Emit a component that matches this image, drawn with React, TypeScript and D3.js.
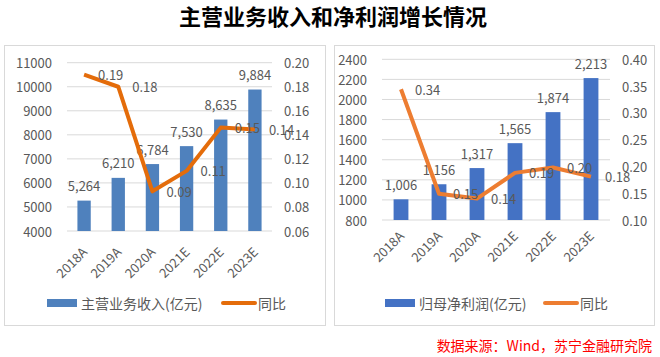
import React from "react";
import * as d3 from "d3";

const categories = ["2018A", "2019A", "2020A", "2021E", "2022E", "2023E"];

const revenue = [5264, 6210, 6784, 7530, 8635, 9884];
const revenueYoY = [0.19, 0.18, 0.093, 0.11, 0.146, 0.1445];
const revenueLeftTicks = [4000, 5000, 6000, 7000, 8000, 9000, 10000, 11000];
const revenueRightTicks = [0.06, 0.08, 0.1, 0.12, 0.14, 0.16, 0.18, 0.2];

const profit = [1006, 1156, 1317, 1565, 1874, 2213];
const profitYoY = [0.344, 0.149, 0.14, 0.188, 0.198, 0.181];
const profitLeftTicks = [800, 1000, 1200, 1400, 1600, 1800, 2000, 2200, 2400];
const profitRightTicks = [0.1, 0.15, 0.2, 0.25, 0.3, 0.35, 0.4];

const title = "主营业务收入和净利润增长情况";
const source = "数据来源：Wind，苏宁金融研究院";
const legendLine = "同比";
const revenueLegend = "主营业务收入(亿元)";
const profitLegend = "归母净利润(亿元)";

type PanelProps = {
  frame: { x: number; y: number; w: number; h: number };
  plot: { x0: number; x1: number; yTop: number; yBottom: number };
  bars: number[];
  line: number[];
  leftTicks: number[];
  rightTicks: number[];
  barColor: string;
  lineColor: string;
  legendText: string;
  legend: { rectX: number; lineX: number; y: number };
  xLabelDy: number;
  font: string;
};

const Panel = (p: PanelProps) => {
  const { plot } = p;
  const x = d3.scaleBand<string>().domain(categories).range([plot.x0, plot.x1]).paddingInner(0.61).paddingOuter(0.305);
  const xc = (c: string) => (x(c) as number) + x.bandwidth() / 2;
  const yL = d3
    .scaleLinear()
    .domain([p.leftTicks[0], p.leftTicks[p.leftTicks.length - 1]])
    .range([plot.yBottom, plot.yTop]);
  const yR = d3
    .scaleLinear()
    .domain([p.rightTicks[0], p.rightTicks[p.rightTicks.length - 1]])
    .range([plot.yBottom, plot.yTop]);
  const lineGen = d3
    .line<number>()
    .x((_, i) => xc(categories[i]))
    .y((d) => yR(d));
  const fmtBar = d3.format(",");
  const fmtPct = d3.format(".2f");
  const txt = "#595959";
  return (
    <g fontFamily={p.font} fontSize={13} fill={txt}>
      <rect x={p.frame.x} y={p.frame.y} width={p.frame.w} height={p.frame.h} fill="#fff" stroke="#D9D9D9" strokeWidth={1} />
      {p.leftTicks.map((t) => (
        <g key={"g" + t}>
          <line x1={plot.x0} x2={plot.x1} y1={yL(t)} y2={yL(t)} stroke="#D9D9D9" strokeWidth={1} />
          <text x={plot.x0 - 15} y={yL(t)} textAnchor="end" dominantBaseline="central">
            {t}
          </text>
        </g>
      ))}
      {p.rightTicks.map((t) => (
        <text key={"r" + t} x={plot.x1 + 12} y={yR(t)} dominantBaseline="central">
          {fmtPct(t)}
        </text>
      ))}
      {p.bars.map((v, i) => (
        <rect
          key={"b" + i}
          x={x(categories[i])}
          y={yL(v)}
          width={x.bandwidth()}
          height={plot.yBottom - yL(v)}
          fill={p.barColor}
        />
      ))}
      {p.bars.map((v, i) => (
        <text key={"bl" + i} x={xc(categories[i])} y={yL(v) - 15} textAnchor="middle" dominantBaseline="central">
          {fmtBar(v)}
        </text>
      ))}
      <path d={lineGen(p.line) as string} fill="none" stroke={p.lineColor} strokeWidth={4} strokeLinejoin="round" />
      {p.line.map((v, i) => (
        <text key={"ll" + i} x={xc(categories[i]) + 14} y={yR(v)} dominantBaseline="central">
          {fmtPct(v)}
        </text>
      ))}
      {categories.map((c) => (
        <text
          key={"x" + c}
          transform={`translate(${xc(c) + 4},${plot.yBottom + p.xLabelDy}) rotate(-45)`}
          textAnchor="end"
        >
          {c}
        </text>
      ))}
      <rect x={p.legend.rectX} y={p.legend.y - 4} width={30} height={8} fill={p.barColor} />
      <text x={p.legend.rectX + 34} y={p.legend.y} fontSize={14} dominantBaseline="central">
        {p.legendText}
      </text>
      <line
        x1={p.legend.lineX}
        x2={p.legend.lineX + 32}
        y1={p.legend.y}
        y2={p.legend.y}
        stroke={p.lineColor}
        strokeWidth={4}
        strokeLinecap="round"
      />
      <text x={p.legend.lineX + 35} y={p.legend.y} fontSize={14} dominantBaseline="central">
        {legendLine}
      </text>
    </g>
  );
};

export default function App() {
  return (
    <svg width={660} height={357} style={{ position: "absolute", left: 0, top: 0, background: "#fff" }}>
      <rect x={0} y={0} width={660} height={357} fill="#fff" />
      <text
        x={333}
        y={25}
        textAnchor="middle"
        fontFamily="'Noto Sans CJK SC', sans-serif"
        fontWeight="bold"
        fontSize={22}
        fill="#000"
      >
        {title}
      </text>
      <Panel
        frame={{ x: 4.5, y: 45.5, w: 321, h: 280 }}
        plot={{ x0: 67, x1: 272, yTop: 62.7, yBottom: 231 }}
        bars={revenue}
        line={revenueYoY}
        leftTicks={revenueLeftTicks}
        rightTicks={revenueRightTicks}
        barColor="#4F81BD"
        lineColor="#E46C0A"
        legendText={revenueLegend}
        legend={{ rectX: 47, lineX: 223, y: 303 }}
        xLabelDy={22}
        font="'Noto Sans CJK SC', sans-serif"
      />
      <Panel
        frame={{ x: 334.5, y: 45.5, w: 320, h: 280 }}
        plot={{ x0: 382, x1: 610, yTop: 59.3, yBottom: 220 }}
        bars={profit}
        line={profitYoY}
        leftTicks={profitLeftTicks}
        rightTicks={profitRightTicks}
        barColor="#4472C4"
        lineColor="#ED7D31"
        legendText={profitLegend}
        legend={{ rectX: 385, lineX: 545, y: 303 }}
        xLabelDy={17}
        font="'Noto Sans CJK SC', sans-serif"
      />
      <text
        x={652}
        y={351}
        textAnchor="end"
        fontFamily="'Noto Sans CJK SC', sans-serif"
        fontSize={14}
        fill="#FF0000"
      >
        {source}
      </text>
    </svg>
  );
}
